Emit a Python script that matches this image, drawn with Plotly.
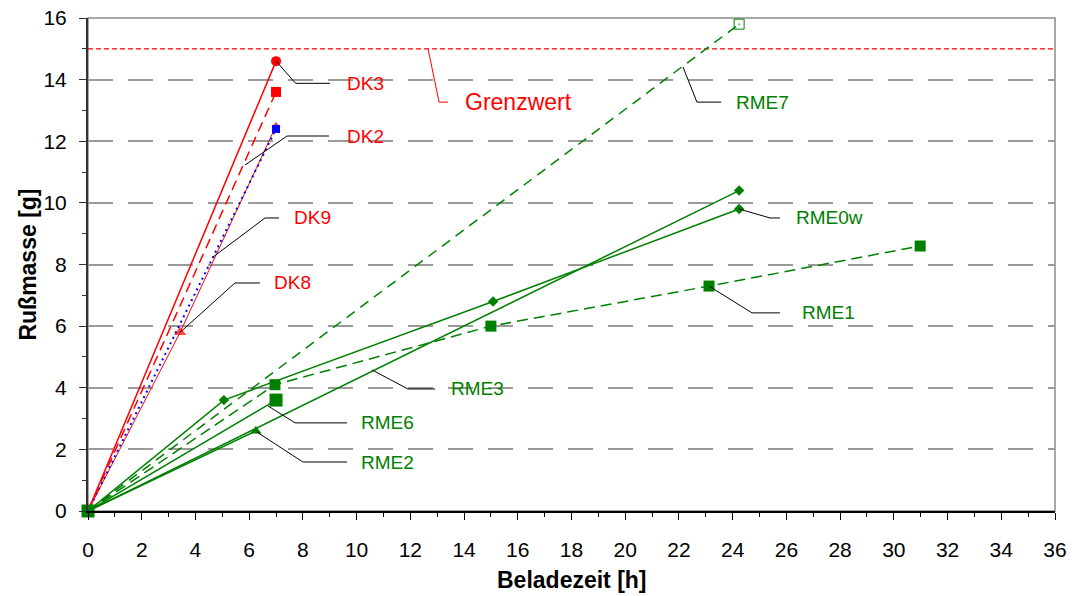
import plotly.graph_objects as go

# ---------------- data ----------------
dk3_x = [0, 7.0];            dk3_y = [0, 14.6]
dk2_x = [0, 7.0];            dk2_y = [0, 13.6]
dk9_x = [0, 7.0];            dk9_y = [0, 12.4]
dk8_x = [0, 3.43, 7.0];      dk8_y = [0, 5.8, 12.5]
rme7_x = [0, 24.24];         rme7_y = [0, 15.8]
rme0w_x = [0, 5.06, 15.08, 24.24]; rme0w_y = [0, 3.6, 6.8, 9.8]
rme3_x = [0, 24.24];         rme3_y = [0, 10.4]
rme1_x = [0, 6.96, 15.0, 23.12, 30.98]; rme1_y = [0, 4.1, 6.0, 7.3, 8.6]
rme6_x = [0, 7.0];           rme6_y = [0, 3.6]
rme2_x = [0, 6.25];          rme2_y = [0, 2.6]
grenz_x = [0, 36];           grenz_y = [15.0, 15.0]

x_ticks = list(range(0, 37, 2))
y_ticks = list(range(0, 17, 2))

RED = "#ff0000"
GREEN = "#008000"
BLUE = "#0000ff"
FONT = "Liberation Sans, Arial, sans-serif"

fig = go.Figure()

def add(x, y, color, width, dash, symbol, size, name):
    fig.add_trace(go.Scatter(
        x=x, y=y, mode="lines+markers", name=name, cliponaxis=False,
        line=dict(color=color, width=width, dash=dash),
        marker=dict(color=color, symbol=symbol, size=size, line=dict(width=0, color=color)),
        showlegend=False, hoverinfo="x+y+name"))

# limit line
fig.add_trace(go.Scatter(x=grenz_x, y=grenz_y, mode="lines", name="Grenzwert",
                         line=dict(color=RED, width=1.3, dash="5px,3px"), showlegend=False))

# red / blue series
add(dk8_x, dk8_y, RED, 1, "solid", "triangle-up", [11, 11, 8], "DK8")
add(dk9_x, dk9_y, BLUE, 2, "2px,4px", "square", 8, "DK9")
add(dk2_x, dk2_y, RED, 1.5, "10px,6px", "square", 10, "DK2")
add(dk3_x, dk3_y, RED, 1.5, "solid", "circle", 10, "DK3")

# green series
add(rme7_x, rme7_y, GREEN, 1.5, "10px,7px", "square-open-dot", 10, "RME7")
add(rme3_x, rme3_y, GREEN, 1.5, "solid", "diamond", 8, "RME3")
add(rme0w_x, rme0w_y, GREEN, 1.5, "solid", "diamond", 8, "RME0w")
add(rme2_x, rme2_y, GREEN, 1.5, "solid", "triangle-up", 10, "RME2")
add(rme1_x, rme1_y, GREEN, 1.5, "11px,6px", "square", 11, "RME1")
add(rme6_x, rme6_y, GREEN, 1.5, "solid", "square", 13, "RME6")

# ---------------- labels with leader lines ----------------
labels = [
    # text, color, start, elbow, end_x, label_x
    ("DK3", RED, (7.0, 14.6), (7.73, 13.88), 9.01, 9.55),
    ("DK2", RED, (5.85, 11.23), (7.41, 12.17), 8.97, 9.55),
    ("DK9", RED, (4.65, 8.24), (6.59, 9.51), 7.11, 7.6),
    ("DK8", RED, (3.43, 5.8), (5.47, 7.40), 6.40, 6.85),
    ("RME7", GREEN, (22.15, 14.41), (22.67, 13.27), 23.57, 24.05),
    ("RME0w", GREEN, (24.24, 9.8), (25.39, 9.51), 25.76, 26.3),
    ("RME1", GREEN, (23.12, 7.3), (24.72, 6.43), 25.76, 26.5),
    ("RME3", GREEN, (10.57, 4.58), (11.91, 3.96), 12.92, 13.45),
    ("RME6", GREEN, (6.70, 3.41), (7.71, 2.86), 9.64, 10.1),
    ("RME2", GREEN, (6.29, 2.56), (8.0, 1.59), 9.64, 10.1),
]
shapes = []
annotations = []
for text, color, s, e, ex, lx in labels:
    shapes.append(dict(type="path", xref="x", yref="y",
                       path=f"M {s[0]},{s[1]} L {e[0]},{e[1]} L {ex},{e[1]}",
                       line=dict(color="black", width=1), layer="above"))
    annotations.append(dict(x=lx, y=e[1], xref="x", yref="y", text=text, showarrow=False,
                            xanchor="left", yanchor="middle",
                            font=dict(family=FONT, size=19, color=color)))

# Grenzwert label (red leader)
shapes.append(dict(type="path", xref="x", yref="y",
                   path="M 12.66,15.0 L 13.07,13.27 L 13.4,13.27",
                   line=dict(color=RED, width=1), layer="above"))
annotations.append(dict(x=13.95, y=13.27, xref="x", yref="y", text="Grenzwert", showarrow=False,
                        xanchor="left", yanchor="middle",
                        font=dict(family=FONT, size=23, color=RED)))

# axis titles
annotations.append(dict(x=0.5, y=-0.140, xref="paper", yref="paper", text="<b>Beladezeit [h]</b>",
                        showarrow=False, xanchor="center", yanchor="middle",
                        font=dict(family=FONT, size=23, color="black")))
annotations.append(dict(x=-0.063, y=0.5, xref="paper", yref="paper", text="<b>Rußmasse [g]</b>",
                        showarrow=False, xanchor="center", yanchor="middle", textangle=-90,
                        font=dict(family=FONT, size=23, color="black")))

# plot border (top/right gray)
shapes.append(dict(type="rect", xref="paper", yref="paper", x0=0, y0=0, x1=1, y1=1,
                   line=dict(color="#8c8c8c", width=1.5), layer="between"))

fig.update_layout(
    width=1072, height=596,
    margin=dict(l=88, r=17, t=18, b=85, autoexpand=False),
    paper_bgcolor="white", plot_bgcolor="white",
    font=dict(family=FONT, size=21, color="black"),
    shapes=shapes, annotations=annotations,
    xaxis=dict(range=[0, 36], tickvals=x_ticks, ticktext=[str(v) for v in x_ticks],
               automargin=False,
               showgrid=False, zeroline=False,
               showline=True, linecolor="black", linewidth=1.5,
               ticks="outside", ticklen=7, tickwidth=1.2, tickcolor="black",
               ticklabelstandoff=12,
               minor=dict(dtick=1, ticks="outside", ticklen=4, tickcolor="black", showgrid=False),
               tickfont=dict(family=FONT, size=21, color="black")),
    yaxis=dict(range=[0, 16], tickvals=y_ticks, ticktext=[str(v) for v in y_ticks],
               automargin=False,
               showgrid=True, gridcolor="#9a9a9a", gridwidth=1.5, griddash="25px,15px",
               zeroline=False,
               showline=True, linecolor="#333333", linewidth=2,
               ticks="outside", ticklen=7, tickwidth=1.2, tickcolor="#333333",
               ticklabelstandoff=8,
               minor=dict(dtick=1, ticks="outside", ticklen=4, tickcolor="#333333", showgrid=False),
               tickfont=dict(family=FONT, size=21, color="black")),
)

fig.write_html("out.html")
